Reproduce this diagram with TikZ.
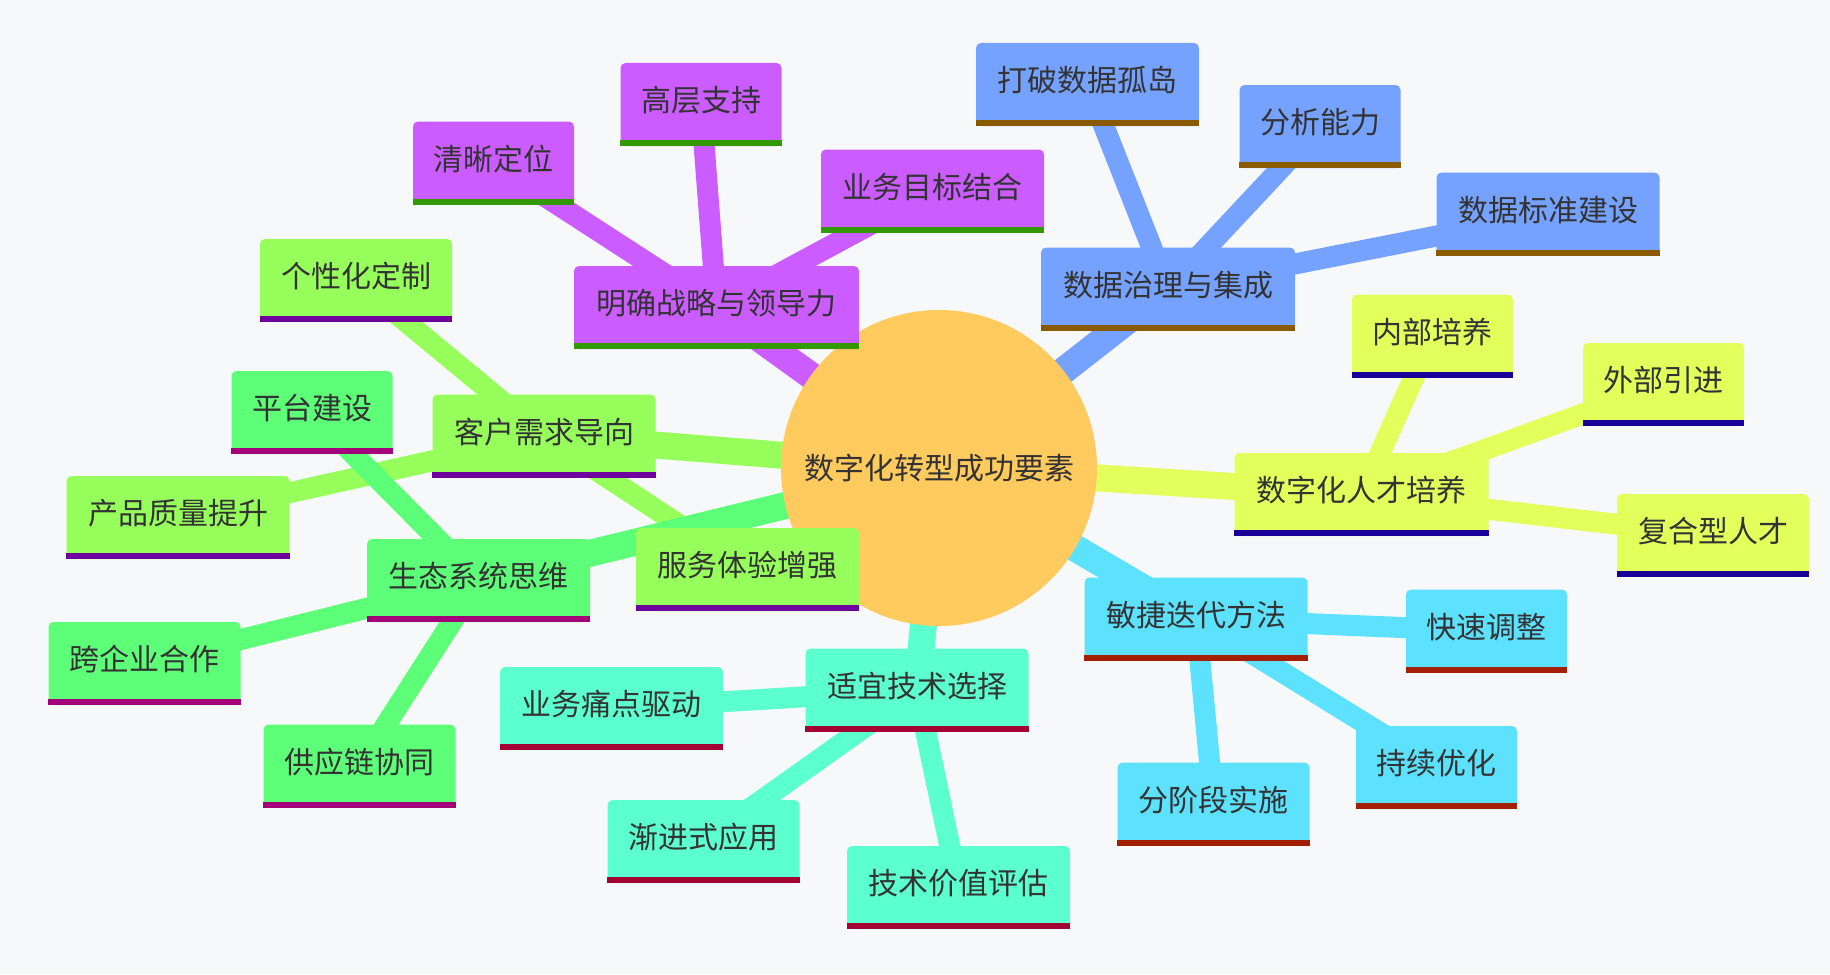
\documentclass[tikz,border=0pt]{standalone}
\usepackage{fontspec}
\setmainfont{Noto Sans CJK SC}
\definecolor{bg}{HTML}{F7F8FA}
\definecolor{txt}{HTML}{333333}
\definecolor{rootc}{HTML}{FFCA5E}
\definecolor{purp}{HTML}{CB5CFF}\definecolor{purpbar}{HTML}{339900}
\definecolor{blu}{HTML}{76A2FF}\definecolor{blubar}{HTML}{8A5A00}
\definecolor{yel}{HTML}{E2FF5C}\definecolor{yelbar}{HTML}{1A0099}
\definecolor{cya}{HTML}{5CE1FF}\definecolor{cyabar}{HTML}{A31F00}
\definecolor{aqu}{HTML}{5CFFCE}\definecolor{aqubar}{HTML}{A30033}
\definecolor{lim}{HTML}{96FF5C}\definecolor{limbar}{HTML}{6E009E}
\definecolor{grn}{HTML}{5EFF78}\definecolor{grnbar}{HTML}{A3007A}
\tikzset{
  mmbox/.style={rectangle, rounded corners=5pt, minimum height=83pt, inner sep=0pt},
  mmlbl/.style={inner sep=0pt, text=txt, font=\fontsize{30}{36}\selectfont},
  mainedge/.style={line width=27pt},
  childedge/.style={line width=21pt},
}
\newcommand\mmnode[7]{%
  \node[mmbox, fill=#5, minimum width=#4pt] (#1) at (#2,#3) {};
  \fill[#6] (#1.south west) rectangle ([yshift=6pt]#1.south east);
  \node[mmlbl] (#1-t) at ([yshift=4pt]#1.center) {#7};
}
\begin{document}
\begin{tikzpicture}[x=1pt,y=-1pt]
\fill[bg] (0,0) rectangle (1830,974);
\useasboundingbox (0,0) rectangle (1830,974);
% nodes positions (coordinates first, drawn later)
\coordinate (root) at (939,468);
\coordinate (P0c) at (716.5,307.5);
\coordinate (P1c) at (493.5,163);
\coordinate (P2c) at (701,104.5);
\coordinate (P3c) at (932.5,191);
\coordinate (B0c) at (1168,289);
\coordinate (B1c) at (1087.5,84.5);
\coordinate (B2c) at (1320,126.5);
\coordinate (B3c) at (1548,214);
\coordinate (Y0c) at (1361.5,494.5);
\coordinate (Y1c) at (1432.5,336);
\coordinate (Y2c) at (1663.5,384.5);
\coordinate (Y3c) at (1713,535.5);
\coordinate (C0c) at (1196,619);
\coordinate (C1c) at (1486.5,631);
\coordinate (C2c) at (1436.5,767.5);
\coordinate (C3c) at (1213.5,804);
\coordinate (A0c) at (917,690);
\coordinate (A1c) at (611.5,708.5);
\coordinate (A2c) at (703.5,841.5);
\coordinate (A3c) at (958.5,887.5);
\coordinate (L0c) at (544,436);
\coordinate (L1c) at (356,280.5);
\coordinate (L2c) at (178,517.5);
\coordinate (L3c) at (747.5,569.5);
\coordinate (G0c) at (478.5,580.5);
\coordinate (G1c) at (312,412.5);
\coordinate (G2c) at (144.5,663.5);
\coordinate (G3c) at (359.5,766);
% edges
\draw[mainedge, purp] (root) -- (P0c);
\draw[childedge, purp] (P0c) -- (P1c) (P0c) -- (P2c) (P0c) -- (P3c);
\draw[mainedge, blu] (root) -- (B0c);
\draw[childedge, blu] (B0c) -- (B1c) (B0c) -- (B2c) (B0c) -- (B3c);
\draw[mainedge, yel] (root) -- (Y0c);
\draw[childedge, yel] (Y0c) -- (Y1c) (Y0c) -- (Y2c) (Y0c) -- (Y3c);
\draw[mainedge, cya] (root) -- (C0c);
\draw[childedge, cya] (C0c) -- (C1c) (C0c) -- (C2c) (C0c) -- (C3c);
\draw[mainedge, aqu] (root) -- (A0c);
\draw[childedge, aqu] (A0c) -- (A1c) (A0c) -- (A2c) (A0c) -- (A3c);
\draw[mainedge, lim] (root) -- (L0c);
\draw[childedge, lim] (L0c) -- (L1c) (L0c) -- (L2c) (L0c) -- (L3c);
\draw[mainedge, grn] (root) -- (G0c);
\draw[childedge, grn] (G0c) -- (G1c) (G0c) -- (G2c) (G0c) -- (G3c);
% root
\node[circle, fill=rootc, minimum size=316pt, inner sep=0pt] (rootn) at (root) {};
\node[mmlbl] (rootn-t) at (rootn.center) {数字化转型成功要素};
% purple
\mmnode{P0}{716.5}{307.5}{285}{purp}{purpbar}{明确战略与领导力}
\mmnode{P1}{493.5}{163}{161}{purp}{purpbar}{清晰定位}
\mmnode{P2}{701}{104.5}{161}{purp}{purpbar}{高层支持}
\mmnode{P3}{932.5}{191}{223}{purp}{purpbar}{业务目标结合}
% blue
\mmnode{B0}{1168}{289}{254}{blu}{blubar}{数据治理与集成}
\mmnode{B1}{1087.5}{84.5}{223}{blu}{blubar}{打破数据孤岛}
\mmnode{B2}{1320}{126.5}{161}{blu}{blubar}{分析能力}
\mmnode{B3}{1548}{214}{223}{blu}{blubar}{数据标准建设}
% yellow
\mmnode{Y0}{1361.5}{494.5}{254}{yel}{yelbar}{数字化人才培养}
\mmnode{Y1}{1432.5}{336}{161}{yel}{yelbar}{内部培养}
\mmnode{Y2}{1663.5}{384.5}{161}{yel}{yelbar}{外部引进}
\mmnode{Y3}{1713}{535.5}{192}{yel}{yelbar}{复合型人才}
% cyan
\mmnode{C0}{1196}{619}{223}{cya}{cyabar}{敏捷迭代方法}
\mmnode{C1}{1486.5}{631}{161}{cya}{cyabar}{快速调整}
\mmnode{C2}{1436.5}{767.5}{161}{cya}{cyabar}{持续优化}
\mmnode{C3}{1213.5}{804}{192}{cya}{cyabar}{分阶段实施}
% aqua
\mmnode{A0}{917}{690}{223}{aqu}{aqubar}{适宜技术选择}
\mmnode{A1}{611.5}{708.5}{223}{aqu}{aqubar}{业务痛点驱动}
\mmnode{A2}{703.5}{841.5}{192}{aqu}{aqubar}{渐进式应用}
\mmnode{A3}{958.5}{887.5}{223}{aqu}{aqubar}{技术价值评估}
% lime
\mmnode{L0}{544}{436}{223}{lim}{limbar}{客户需求导向}
\mmnode{L1}{356}{280.5}{192}{lim}{limbar}{个性化定制}
\mmnode{L2}{178}{517.5}{223}{lim}{limbar}{产品质量提升}
\mmnode{L3}{747.5}{569.5}{223}{lim}{limbar}{服务体验增强}
% green
\mmnode{G0}{478.5}{580.5}{223}{grn}{grnbar}{生态系统思维}
\mmnode{G1}{312}{412.5}{161}{grn}{grnbar}{平台建设}
\mmnode{G2}{144.5}{663.5}{192}{grn}{grnbar}{跨企业合作}
\mmnode{G3}{359.5}{766}{192}{grn}{grnbar}{供应链协同}
\end{tikzpicture}
\end{document}
